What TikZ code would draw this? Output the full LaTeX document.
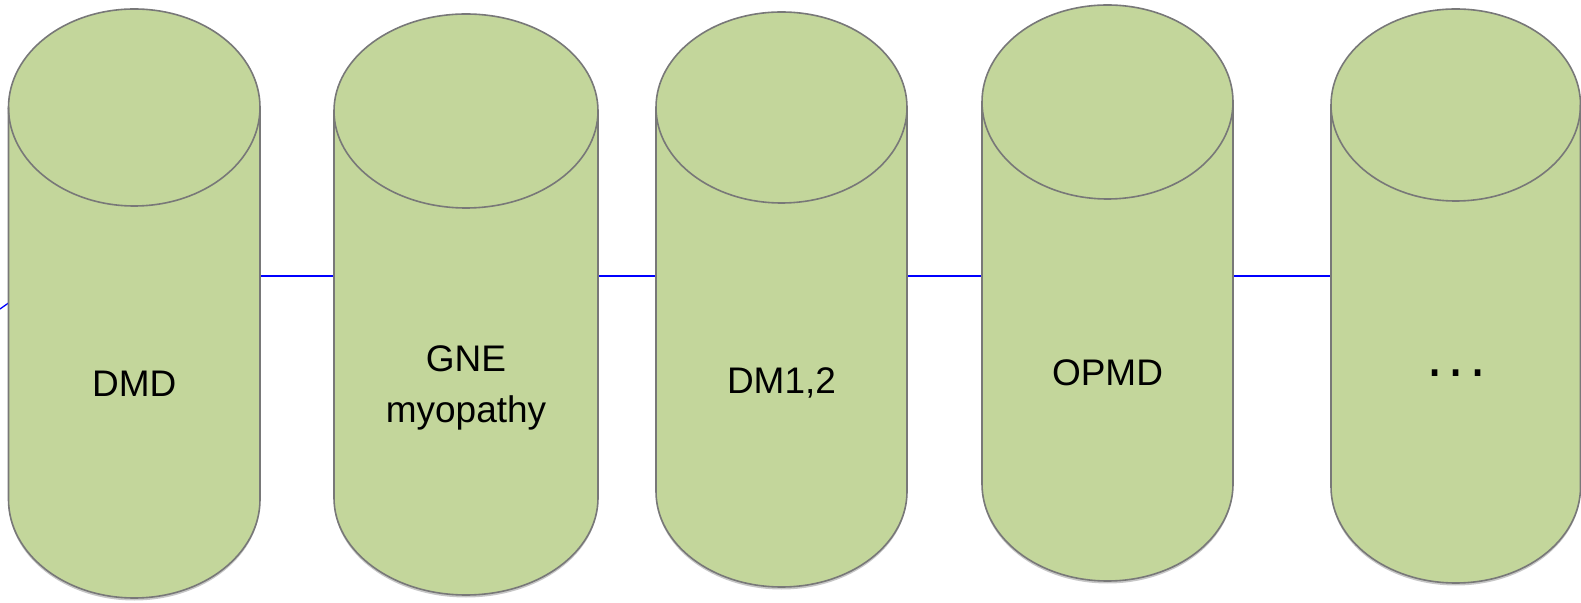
\documentclass[tikz,border=0pt]{standalone}
\usepackage{fontspec}
\setmainfont{Liberation Sans}
\newfontfamily\dotfont{DejaVu Sans}
\usetikzlibrary{shadows}
\definecolor{cylgreen}{HTML}{C3D69B}
\definecolor{cylgray}{HTML}{787878}
\tikzset{
  cylfill/.style={fill=cylgreen, draw=cylgray, line width=1.6pt,
    drop shadow={shadow xshift=0pt, shadow yshift=-2.5pt, opacity=0.22, fill=black}},
  cyledge/.style={draw=cylgray, line width=1.6pt},
  lbl/.style={font=\fontsize{37}{51}\selectfont, align=center, text=black, inner sep=0pt},
  link/.style={draw=blue, line width=1.3pt},
}
\newcommand\mycyl[6]{%
  \pgfmathsetmacro\myrx{(#2-#1)/2}%
  \path[cylfill] (#1,#4) -- (#1,#5)
     arc[start angle=180,end angle=360,x radius=\myrx pt,y radius=#6 pt]
     -- (#2,#4)
     arc[start angle=0,end angle=180,x radius=\myrx pt,y radius=#6 pt] -- cycle;
  \draw[cyledge] (#1,#4) arc[start angle=180,end angle=360,x radius=\myrx pt,y radius=#6 pt];
}
\begin{document}
\begin{tikzpicture}[x=1pt,y=1pt]
\useasboundingbox (0,0) rectangle (1581,602);
% connector end points
\coordinate (in) at (0,293);
\coordinate (c1in) at (8.5,299);
\coordinate (c1r) at (260,326);
\coordinate (c2l) at (334,326);
\coordinate (c2r) at (598,326);
\coordinate (c3l) at (656,326);
\coordinate (c3r) at (907,326);
\coordinate (c4l) at (982,326);
\coordinate (c4r) at (1233,326);
\coordinate (c5l) at (1331,326);
% connectors
\draw[link] (in) -- (c1in);
\draw[link] (c1r) -- (c2l);
\draw[link] (c2r) -- (c3l);
\draw[link] (c3r) -- (c4l);
\draw[link] (c4r) -- (c5l);
% cylinders
\mycyl{8.5}{260}{593}{494.5}{102.5}{98.5}
\mycyl{334}{598}{588}{491}{104}{97}
\mycyl{656}{907}{590}{494.5}{110.5}{95.5}
\mycyl{982}{1233}{597}{500}{118}{97}
\mycyl{1331}{1580.5}{593}{497}{115}{96}
% labels
\node[lbl, anchor=base] (c1) at (134.25,205) {DMD};
\node[lbl] (c2) at (466,214) {GNE\\myopathy};
\node[lbl, anchor=base] (c3) at (781.5,208) {DM1,2};
\node[lbl, anchor=base] (c4) at (1107.5,216) {OPMD};
\node[lbl, anchor=base, font=\dotfont\fontsize{54}{60}\selectfont] (c5) at (1456.5,225.5) {.\hspace{4.3pt}.\hspace{4.3pt}.};
\end{tikzpicture}
\end{document}
